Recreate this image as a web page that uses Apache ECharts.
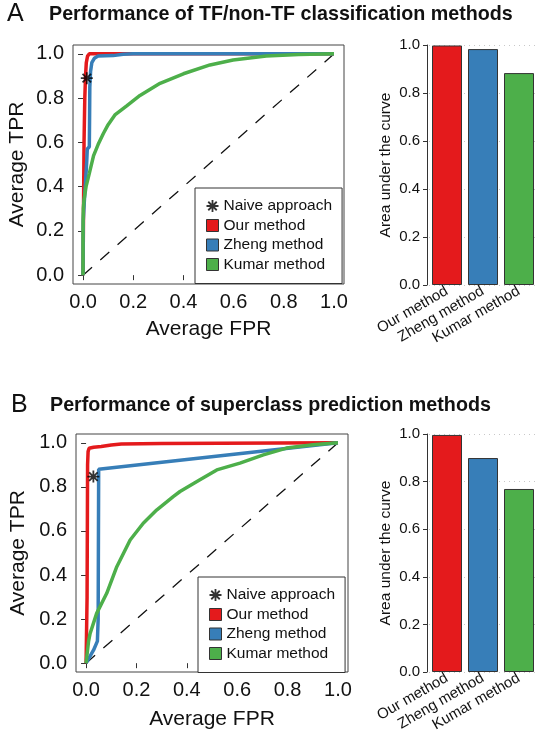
<!DOCTYPE html>
<html><head><meta charset="utf-8">
<script src="https://cdn.jsdelivr.net/npm/echarts@6/dist/echarts.min.js"></script>
<style>html,body{margin:0;padding:0;background:#fff}#c{width:544px;height:745px}</style>
</head><body><div id="c"></div>
<script>
// ---------- DATA ----------
var categories = ['Our method', 'Zheng method', 'Kumar method'];
var seriesNames = ['Naive approach', 'Our method', 'Zheng method', 'Kumar method'];
var rocTicks = [0, 0.2, 0.4, 0.6, 0.8, 1.0];

// Panel A: TF / non-TF classification  ([FPR, TPR])
var rocA_our = [[0,0],[0.002,0.3],[0.004,0.6],[0.007,0.8],[0.01,0.9],[0.013,0.96],[0.018,0.99],[0.025,1.0],[1,1]];
var rocA_zheng = [[0,0],[0.001,0.25],[0.005,0.33],[0.01,0.42],[0.015,0.52],[0.017,0.57],[0.025,0.58],[0.026,0.7],[0.027,0.85],[0.03,0.92],[0.035,0.96],[0.045,0.98],[0.06,0.99],[0.12,0.992],[0.16,0.998],[0.2,1],[1,1]];
var rocA_kumar = [[0,0],[0,0.2],[0.001,0.3],[0.004,0.34],[0.012,0.4],[0.025,0.46],[0.042,0.54],[0.06,0.59],[0.081,0.64],[0.1,0.68],[0.127,0.724],[0.174,0.765],[0.227,0.812],[0.307,0.867],[0.4,0.91],[0.506,0.95],[0.598,0.972],[0.73,0.99],[0.86,0.997],[1,1]];
var naiveA = [[0.015, 0.89]];
var aucA = [0.998, 0.983, 0.883];

// Panel B: superclass prediction
var rocB_our = [[0,0],[0.004,0.3],[0.005,0.6],[0.006,0.9],[0.008,0.96],[0.012,0.975],[0.03,0.98],[0.06,0.983],[0.1,0.99],[0.14,0.995],[0.3,0.997],[1,1]];
var rocB_zheng = [[0,0],[0.01,0.02],[0.03,0.06],[0.045,0.1],[0.048,0.2],[0.05,0.88],[1,1]];
var rocB_kumar = [[0,0],[0.005,0.05],[0.01,0.1],[0.016,0.135],[0.042,0.226],[0.082,0.317],[0.122,0.438],[0.175,0.559],[0.227,0.635],[0.28,0.695],[0.346,0.756],[0.373,0.779],[0.452,0.832],[0.519,0.877],[0.611,0.908],[0.704,0.945],[0.796,0.976],[0.902,0.991],[1,1]];
var naiveB = [[0.029, 0.847]];
var aucB = [0.996, 0.899, 0.769];

// ---------- STYLE ----------
var FONT = '"Liberation Sans", Arial, sans-serif';
var RED = '#E41A1C', BLUE = '#377EB8', GREEN = '#4DAF4A';
var barColors = [RED, BLUE, GREEN];
var STAR = 'path://M8.5 0L11.5 0L11.5 20L8.5 20Z M0 8.5L20 8.5L20 11.5L0 11.5Z M3.99 1.87L18.13 16.01L16.01 18.13L1.87 3.99Z M16.01 1.87L18.13 3.99L3.99 18.13L1.87 16.01Z';
var TXT = '#111';

function rocX(g, gap) {
  return {type:'value', gridIndex:g, min:-0.04, max:1.04,
    axisLine:{show:false},
    axisTick:{show:true, customValues:rocTicks, length:5, lineStyle:{color:'#333'}},
    axisLabel:{customValues:rocTicks, formatter:function(v){return v.toFixed(1);}, fontSize:20, color:TXT, margin:8, fontFamily:FONT},
    splitLine:{show:false},
    name:'Average FPR', nameLocation:'middle', nameGap:gap, nameTextStyle:{fontSize:21, color:TXT, fontFamily:FONT}};
}
function rocY(g, gap) {
  return {type:'value', gridIndex:g, min:-0.04, max:1.04,
    axisLine:{show:false},
    axisTick:{show:true, customValues:rocTicks, length:5, lineStyle:{color:'#333'}},
    axisLabel:{customValues:rocTicks, formatter:function(v){return v.toFixed(1);}, fontSize:20, color:TXT, margin:9, fontFamily:FONT},
    splitLine:{show:false},
    name:'Average TPR', nameLocation:'middle', nameGap:gap, nameTextStyle:{fontSize:21, color:TXT, fontFamily:FONT}};
}
function barX(g) {
  return {type:'category', gridIndex:g, data:categories,
    axisLine:{show:false}, axisTick:{show:false},
    axisLabel:{rotate:30, interval:0, fontSize:15, color:TXT, margin:5, fontFamily:FONT}};
}
function barY(g) {
  return {type:'value', gridIndex:g, min:0, max:1, interval:0.2, offset:2,
    axisLine:{show:true, lineStyle:{color:'#333'}},
    axisTick:{show:true, length:4, lineStyle:{color:'#333'}},
    axisLabel:{formatter:function(v){return v.toFixed(1);}, fontSize:15, color:TXT, margin:7, fontFamily:FONT},
    splitLine:{show:true, lineStyle:{type:[1,4], color:'#c8c8c8', width:1}},
    name:'Area under the curve', nameLocation:'middle', nameGap:33, nameTextStyle:{fontSize:15.5, color:TXT, fontFamily:FONT}};
}
function line(name, data, color, xi) {
  return {type:'line', name:name, xAxisIndex:xi, yAxisIndex:xi, data:data, symbol:'none', showSymbol:false,
    color:color, lineStyle:{width:3.5, color:color}, itemStyle:{color:color}, z:3};
}
function diag(xi) {
  return {type:'line', name:'diag'+xi, xAxisIndex:xi, yAxisIndex:xi, data:[[0,0],[1,1]], symbol:'none',
    lineStyle:{width:1.3, color:'#111', type:[12,11]}, z:2, silent:true};
}
function naive(data, xi) {
  return {type:'scatter', name:'Naive approach', xAxisIndex:xi, yAxisIndex:xi, data:data, symbol:STAR, symbolSize:12,
    itemStyle:{color:'#000'}, z:5};
}
function bars(vals, xi) {
  return {type:'bar', name:'auc'+xi, xAxisIndex:xi, yAxisIndex:xi, barWidth:30,
    data: vals.map(function(v,i){return {value:v, itemStyle:{color:barColors[i]}};}),
    itemStyle:{borderColor:'#333', borderWidth:1}};
}
function legend(left, top) {
  var icons = [STAR, 'rect', 'rect', 'rect'];
  var cols = ['#000', RED, BLUE, GREEN];
  return {left:left, top:top, orient:'vertical', backgroundColor:'#fff', borderColor:'#333', borderWidth:1,
    padding:[10,10,11,11], itemGap:3.5, itemWidth:12, itemHeight:12, selectedMode:false,
    textStyle:{fontSize:15.5, lineHeight:16, color:TXT, fontFamily:FONT},
    data: seriesNames.map(function(n,i){
      return {name:n, icon:icons[i], itemStyle: i===0 ? {color:cols[i], borderWidth:0} : {color:cols[i], borderColor:'#333', borderWidth:1}};
    })};
}

var option = {
  animation:false,
  backgroundColor:'#fff',
  title:[
    {text:'A', left:7, top:2, padding:0, textStyle:{fontSize:25, fontWeight:'normal', color:TXT, fontFamily:FONT}},
    {text:'Performance of TF/non-TF classification methods', left:49, top:5, padding:0, textStyle:{fontSize:19.7, fontWeight:'bold', color:TXT, fontFamily:FONT}},
    {text:'B', left:11, top:393, padding:0, textStyle:{fontSize:25, fontWeight:'normal', color:TXT, fontFamily:FONT}},
    {text:'Performance of superclass prediction methods', left:50, top:396, padding:0, textStyle:{fontSize:19.7, fontWeight:'bold', color:TXT, fontFamily:FONT}}
  ],
  legend:[legend(195,188), legend(198,577)],
  grid:[
    {left:73, top:45, width:271, height:239, show:true, borderColor:'#444', borderWidth:1, backgroundColor:'transparent'},
    {left:429, top:45, width:108, height:240},
    {left:76, top:434, width:272, height:238, show:true, borderColor:'#444', borderWidth:1, backgroundColor:'transparent'},
    {left:429, top:434, width:108, height:238}
  ],
  xAxis:[rocX(0,35), barX(1), rocX(2,37), barX(3)],
  yAxis:[rocY(0,45), barY(1), rocY(2,47), barY(3)],
  series:[
    diag(0),
    line('Our method', rocA_our, RED, 0),
    line('Zheng method', rocA_zheng, BLUE, 0),
    line('Kumar method', rocA_kumar, GREEN, 0),
    naive(naiveA, 0),
    bars(aucA, 1),
    diag(2),
    line('Our method', rocB_our, RED, 2),
    line('Zheng method', rocB_zheng, BLUE, 2),
    line('Kumar method', rocB_kumar, GREEN, 2),
    naive(naiveB, 2),
    bars(aucB, 3)
  ]
};
var chart = echarts.init(document.getElementById('c'), null, {renderer:'canvas'});
chart.setOption(option);
</script></body></html>
